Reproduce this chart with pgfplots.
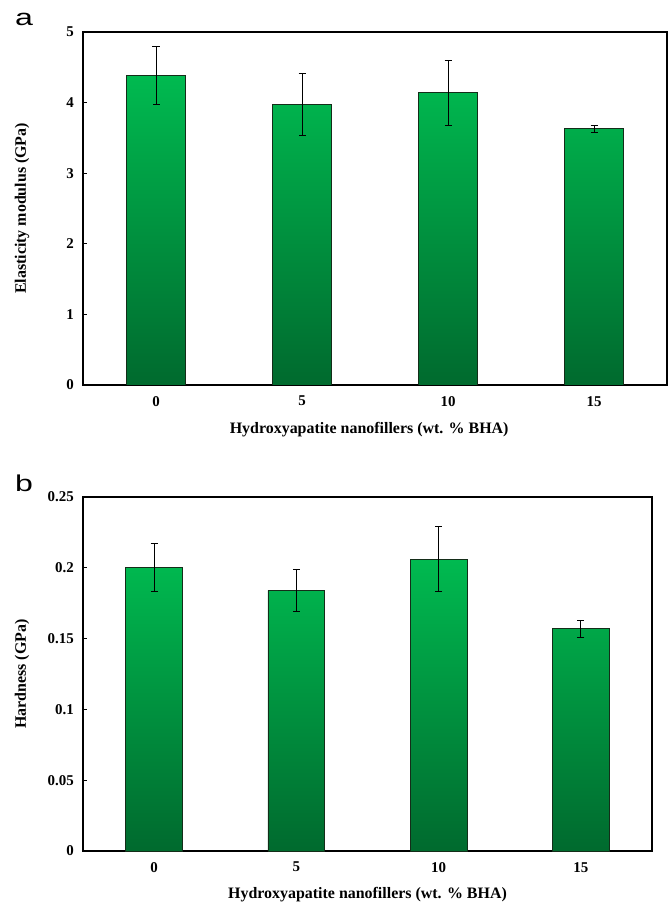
\documentclass[border=0pt]{standalone}
\usepackage{pgfplots}
\pgfplotsset{compat=1.18}
\usepackage{graphicx}
\usepackage{fontspec}
\setmainfont{Liberation Serif}
\newfontfamily\labfont{Liberation Sans}
\definecolor{gtop}{RGB}{0,186,80}
\definecolor{gbot}{RGB}{0,106,46}
\definecolor{bedge}{RGB}{20,45,25}

\pgfplotsset{
  myax/.style={
    scale only axis, anchor=north west,
    xmin=-0.5, xmax=3.5, ymin=0,
    xtick={0,1,2,3}, xticklabels={0,5,10,15},
    x tick style={draw=none},
    ytick pos=left,
    tick align=inside,
    major tick length=4bp,
    y tick style={black, line width=0.7bp},
    axis line style={line width=1.3bp},
    tick label style={font=\fontsize{15}{15}\selectfont\bfseries},
    /pgf/number format/assume math mode=true,
    /pgf/number format/fixed,
    scaled y ticks=false,
    yticklabel style={inner sep=0pt, xshift=-9bp},
    xticklabel style={inner sep=0pt, yshift=-11bp},
  },
  bars/.style={ybar, bar width=0.4, draw=bedge, line width=0.7bp, top color=gtop, bottom color=gbot},
  errs/.style={draw=none, forget plot,
    error bars/.cd, y dir=both, y explicit, error mark=-,
    error bar style={draw=black, solid, line width=0.9bp},
    error mark options={draw=black, rotate=90, solid, line width=0.9bp, mark size=3.5bp}},
}

\begin{document}
\begin{tikzpicture}
\path[use as bounding box] (0,0) rectangle (670bp,-903bp);

\begin{axis}[myax,
  at={(83bp,-32bp)}, width=584bp, height=353bp,
  ymax=5, ytick={0,1,2,3,4,5},
  ylabel={Elasticity modulus (GPa)},
  xlabel={Hydroxyapatite nanofillers (wt. \% BHA)},
  every axis y label/.style={at={(axis description cs:-0.1045,0.5)}, rotate=90, anchor=center, font=\fontsize{16}{16}\selectfont\bfseries},
  every axis x label/.style={at={(axis description cs:0.49,-0.1275)}, anchor=center, font=\fontsize{16}{16}\selectfont\bfseries},
]
\addplot[bars] table[x=x, y=y] {
x y e
0 4.39 0.41
1 3.97 0.44
2 4.14 0.46
3 3.63 0.05
};
\addplot[errs] table[x=x, y=y, y error=e] {
x y e
0 4.39 0.41
1 3.97 0.44
2 4.14 0.46
3 3.63 0.05
};
\end{axis}

\begin{axis}[myax,
  at={(83bp,-497bp)}, width=569bp, height=354bp,
  ymax=0.25, ytick={0,0.05,0.1,0.15,0.2,0.25},
  ylabel={Hardness (GPa)},
  xlabel={Hydroxyapatite nanofillers (wt. \% BHA)},
  every axis y label/.style={at={(axis description cs:-0.1072,0.5)}, rotate=90, anchor=center, font=\fontsize{16}{16}\selectfont\bfseries},
  every axis x label/.style={at={(axis description cs:0.5,-0.1243)}, anchor=center, font=\fontsize{16}{16}\selectfont\bfseries},
]
\addplot[bars] table[x=x, y=y] {
x y e
0 0.200 0.017
1 0.184 0.015
2 0.206 0.023
3 0.157 0.006
};
\addplot[errs] table[x=x, y=y, y error=e] {
x y e
0 0.200 0.017
1 0.184 0.015
2 0.206 0.023
3 0.157 0.006
};
\end{axis}

\node[inner sep=0pt, anchor=base west, font=\labfont\fontsize{23}{23}\selectfont] at (15bp,-25bp) {\scalebox{1.4}[1]{a}};
\node[inner sep=0pt, anchor=base west, font=\labfont\fontsize{23}{23}\selectfont] at (15bp,-491bp) {\scalebox{1.4}[1]{b}};
\end{tikzpicture}
\end{document}
